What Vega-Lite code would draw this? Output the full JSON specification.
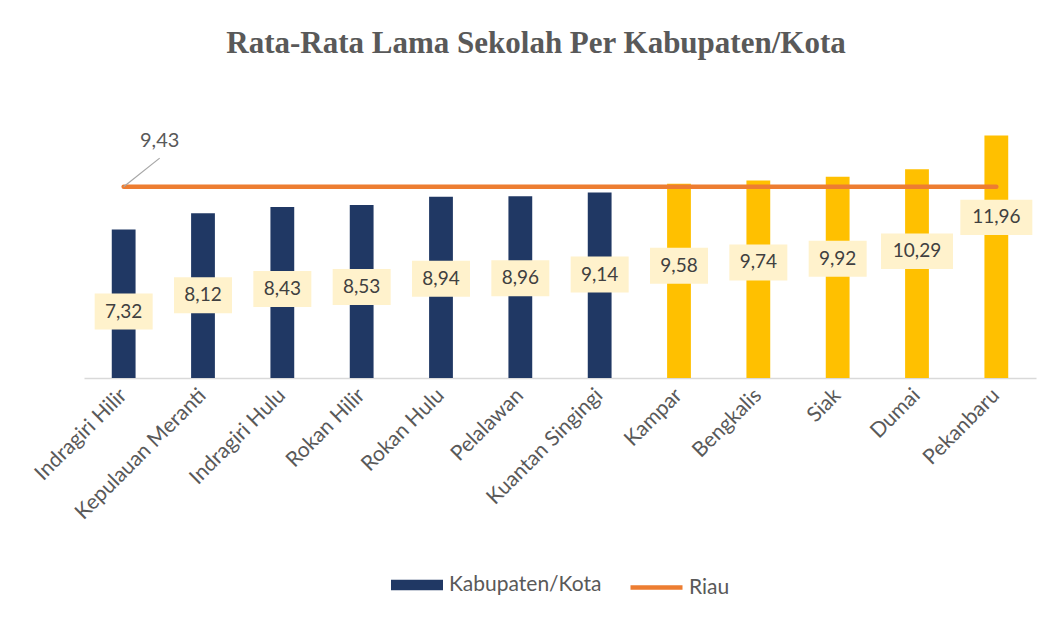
{
  "$schema": "https://vega.github.io/schema/vega-lite/v6.json",
  "width": 952,
  "height": 284,
  "autosize": {"type": "none"},
  "padding": {"left": 84, "top": 94, "right": 21, "bottom": 242},
  "background": "white",
  "config": {
    "view": {"stroke": null},
    "font": "Lato",
    "locale": {"number": {"decimal": ",", "thousands": ".", "grouping": [3], "currency": ["Rp", ""]}},
    "legend": {"layout": {"bottom": {"anchor": "middle", "direction": "horizontal", "margin": 26}}}
  },
  "title": {
    "text": "Rata-Rata Lama Sekolah Per Kabupaten/Kota",
    "font": "Liberation Serif",
    "fontSize": 31,
    "fontWeight": "bold",
    "color": "#595959",
    "anchor": "middle",
    "dx": -24,
    "offset": 34
  },
  "data": {
    "values": [
      {"wilayah": "Indragiri Hilir", "nilai": 7.32, "riau": 9.43},
      {"wilayah": "Kepulauan Meranti", "nilai": 8.12, "riau": 9.43},
      {"wilayah": "Indragiri Hulu", "nilai": 8.43, "riau": 9.43},
      {"wilayah": "Rokan Hilir", "nilai": 8.53, "riau": 9.43},
      {"wilayah": "Rokan Hulu", "nilai": 8.94, "riau": 9.43},
      {"wilayah": "Pelalawan", "nilai": 8.96, "riau": 9.43},
      {"wilayah": "Kuantan Singingi", "nilai": 9.14, "riau": 9.43},
      {"wilayah": "Kampar", "nilai": 9.58, "riau": 9.43},
      {"wilayah": "Bengkalis", "nilai": 9.74, "riau": 9.43},
      {"wilayah": "Siak", "nilai": 9.92, "riau": 9.43},
      {"wilayah": "Dumai", "nilai": 10.29, "riau": 9.43},
      {"wilayah": "Pekanbaru", "nilai": 11.96, "riau": 9.43}
    ]
  },
  "encoding": {
    "x": {
      "field": "wilayah",
      "type": "nominal",
      "sort": null,
      "scale": {"paddingInner": 0.7, "paddingOuter": 0.35},
      "axis": {
        "title": null,
        "labelAngle": -45,
        "labelAlign": "right",
        "labelBaseline": "middle",
        "labelFont": "Lato",
        "labelFontSize": 21,
        "labelColor": "#595959",
        "labelPadding": 14,
        "ticks": false,
        "domainColor": "#D9D9D9",
        "domainWidth": 1.5
      }
    }
  },
  "layer": [
    {
      "mark": {"type": "bar"},
      "encoding": {
        "y": {
          "field": "nilai",
          "type": "quantitative",
          "scale": {"domain": [0, 14], "nice": false},
          "axis": null
        },
        "fill": {
          "condition": {"test": "datum.nilai > datum.riau", "value": "#FFC000"},
          "datum": "Kabupaten/Kota",
          "scale": {"range": ["#203864"]},
          "legend": {
            "title": null,
            "orient": "bottom",
            "offset": 36,
            "symbolType": "M-1,-0.2H1V0.2H-1Z",
            "symbolSize": 2704,
            "labelFontSize": 21,
            "labelColor": "#595959",
            "labelFont": "Lato",
            "labelOffset": 6,
            "symbolStrokeWidth": 0
          }
        }
      }
    },
    {
      "mark": {"type": "line", "strokeWidth": 4.5, "strokeCap": "round"},
      "encoding": {
        "y": {"field": "riau", "type": "quantitative"},
        "stroke": {
          "datum": "Riau",
          "scale": {"range": ["#ED7D31"]},
          "legend": {
            "title": null,
            "orient": "bottom",
            "offset": 36,
            "symbolType": "stroke",
            "symbolSize": 2704,
            "symbolStrokeWidth": 4.5,
            "labelFontSize": 21,
            "labelColor": "#595959",
            "labelFont": "Lato",
            "labelOffset": 4
          }
        }
      }
    },
    {
      "transform": [{"filter": "datum.wilayah == 'Indragiri Hilir'"}],
      "mark": {"type": "rule", "x2Offset": 36, "color": "#A6A6A6", "strokeWidth": 1.2},
      "encoding": {
        "y": {"field": "riau", "type": "quantitative"},
        "y2": {"datum": 10.84},
        "x2": {"field": "wilayah"}
      }
    },
    {
      "transform": [{"filter": "datum.wilayah == 'Indragiri Hilir'"}],
      "mark": {"type": "text", "dx": 36, "dy": -46, "fontSize": 20, "color": "#595959", "font": "Lato"},
      "encoding": {
        "y": {"field": "riau", "type": "quantitative"},
        "text": {"field": "riau", "type": "quantitative", "format": ".2f", "formatType": "number"}
      }
    },
    {
      "mark": {"type": "point", "filled": true, "opacity": 1, "yOffset": 82, "fill": "#FFF2CC", "strokeWidth": 0},
      "encoding": {
        "y": {"field": "nilai", "type": "quantitative"},
        "shape": {
          "condition": {"test": "datum.nilai >= 10", "value": "M-1,-0.49H1V0.49H-1Z"},
          "value": "M-1,-0.62H1V0.62H-1Z"
        },
        "size": {
          "condition": {"test": "datum.nilai >= 10", "value": 5184},
          "value": 3364
        }
      }
    },
    {
      "mark": {"type": "text", "dy": 82, "fontSize": 19, "color": "#404040", "font": "Lato", "baseline": "middle"},
      "encoding": {
        "y": {"field": "nilai", "type": "quantitative"},
        "text": {"field": "nilai", "type": "quantitative", "format": ".2f"}
      }
    }
  ]
}
